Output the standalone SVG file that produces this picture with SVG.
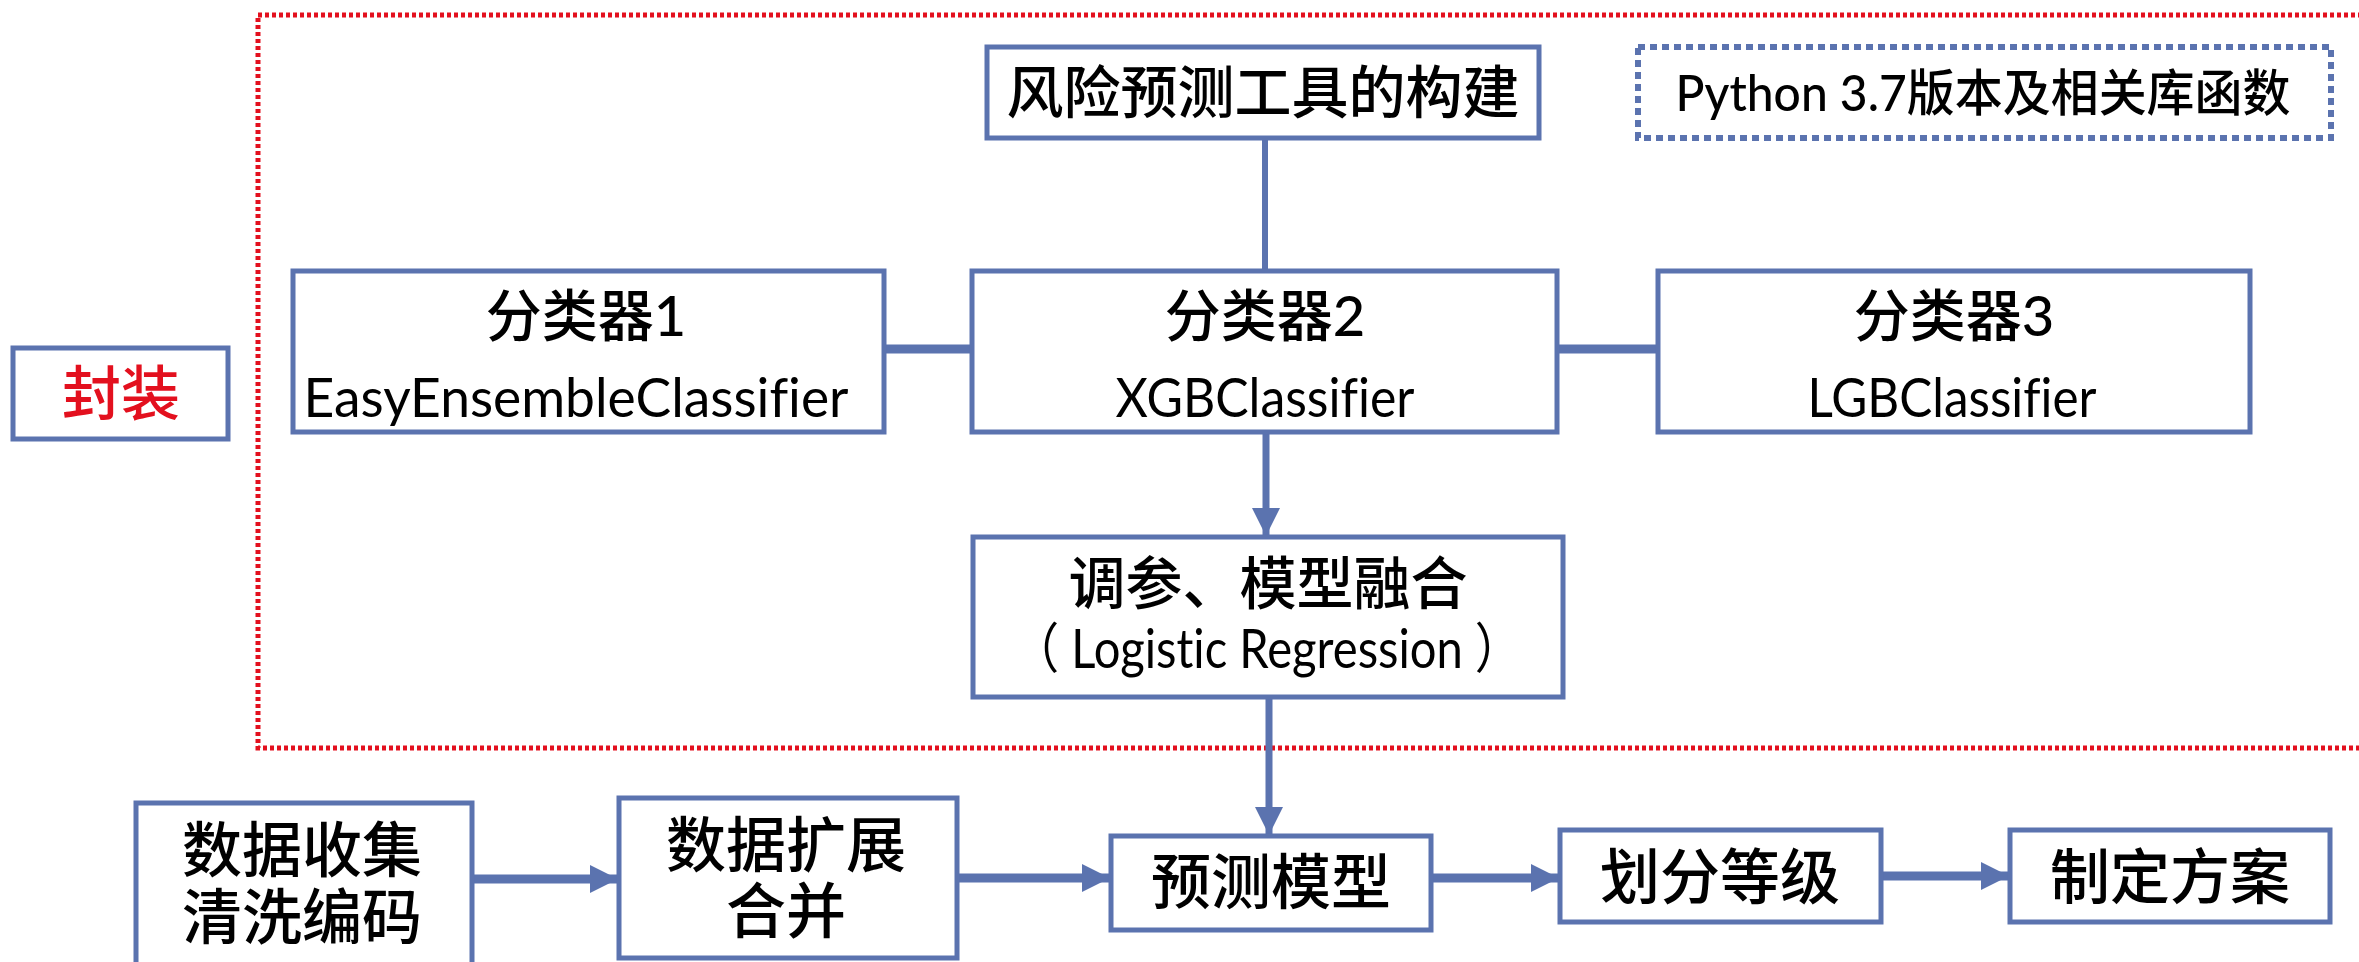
<svg xmlns="http://www.w3.org/2000/svg" width="2359" height="962" viewBox="0 0 2359 962">
<defs>
<style>
.box{fill:#FFFFFF;stroke:#5B73AF;stroke-width:5}
.cjk{font-family:"Lato","Noto Sans CJK SC",sans-serif;font-weight:500;fill:#000000;text-anchor:middle;font-variant-ligatures:none}
.lat{font-family:"Lato","Noto Sans CJK SC",sans-serif;fill:#000000;text-anchor:middle;font-variant-ligatures:none}
.conn{stroke:#5B73AF;fill:none}
</style>
<marker id="ah" markerUnits="userSpaceOnUse" markerWidth="28" markerHeight="28" refX="27" refY="14" orient="auto" viewBox="0 0 28 28">
<path d="M0,0 L28,14 L0,28 z" fill="#5B73AF"/>
</marker>
</defs>
<rect width="2359" height="962" fill="#FFFFFF"/>

<g id="encapsulation-frame">
<rect x="258" y="15" width="2200" height="733" fill="none" stroke="#E3101E" stroke-width="5" stroke-dasharray="4 3"/>
</g>

<g id="connectors">
<line class="conn" x1="1265" y1="138" x2="1265" y2="271" stroke-width="6"/>
<line class="conn" x1="884" y1="349" x2="972" y2="349" stroke-width="9"/>
<line class="conn" x1="1557" y1="349" x2="1658" y2="349" stroke-width="9"/>
<line class="conn" x1="1266" y1="432" x2="1266" y2="535" stroke-width="7" marker-end="url(#ah)"/>
<line class="conn" x1="1269" y1="697" x2="1269" y2="834" stroke-width="7" marker-end="url(#ah)"/>
<line class="conn" x1="472" y1="879" x2="617" y2="879" stroke-width="9" marker-end="url(#ah)"/>
<line class="conn" x1="957" y1="878" x2="1109" y2="878" stroke-width="9" marker-end="url(#ah)"/>
<line class="conn" x1="1431" y1="878" x2="1558" y2="878" stroke-width="9" marker-end="url(#ah)"/>
<line class="conn" x1="1881" y1="876" x2="2008" y2="876" stroke-width="9" marker-end="url(#ah)"/>
</g>

<g id="node-fengzhuang">
<rect class="box" x="13" y="348" width="215" height="91"/>
<text class="cjk" x="121" y="415" font-size="59" style="fill:#E3101E">封装</text>
</g>

<g id="node-title">
<rect class="box" x="987" y="47" width="552" height="91"/>
<text class="cjk" x="1263" y="113" font-size="57">风险预测工具的构建</text>
</g>

<g id="node-python">
<rect x="1638" y="47" width="693" height="91" fill="#FFFFFF" stroke="#5B73AF" stroke-width="6" stroke-dasharray="7 5"/>
<text class="cjk" x="1983" y="111" font-size="50" textLength="615" lengthAdjust="spacingAndGlyphs">Python 3.7版本及相关库函数</text>
</g>

<g id="node-clf1">
<rect class="box" x="293" y="271" width="591" height="161"/>
<text class="cjk" x="586" y="336" font-size="56">分类器1</text>
<text class="lat" x="576" y="417" font-size="54" textLength="545" lengthAdjust="spacingAndGlyphs">EasyEnsembleClassifier</text>
</g>

<g id="node-clf2">
<rect class="box" x="972" y="271" width="585" height="161"/>
<text class="cjk" x="1265" y="336" font-size="56">分类器2</text>
<text class="lat" x="1265" y="417" font-size="54" textLength="299" lengthAdjust="spacingAndGlyphs">XGBClassifier</text>
</g>

<g id="node-clf3">
<rect class="box" x="1658" y="271" width="592" height="161"/>
<text class="cjk" x="1954" y="336" font-size="56">分类器3</text>
<text class="lat" x="1952" y="417" font-size="54" textLength="289" lengthAdjust="spacingAndGlyphs">LGBClassifier</text>
</g>

<g id="node-fusion">
<rect class="box" x="973" y="537" width="590" height="160"/>
<text class="cjk" x="1268" y="604" font-size="57">调参、模型融合</text>
<text class="lat" x="1267" y="668" font-size="54" textLength="510" lengthAdjust="spacingAndGlyphs">（ Logistic Regression ）</text>
</g>

<g id="node-collect">
<rect class="box" x="136" y="803" width="336" height="170"/>
<text class="cjk" x="302" y="872" font-size="60">数据收集</text>
<text class="cjk" x="302" y="939" font-size="60">清洗编码</text>
</g>

<g id="node-expand">
<rect class="box" x="619" y="798" width="338" height="160"/>
<text class="cjk" x="786" y="867" font-size="60">数据扩展</text>
<text class="cjk" x="786" y="933" font-size="60">合并</text>
</g>

<g id="node-model">
<rect class="box" x="1111" y="836" width="320" height="94"/>
<text class="cjk" x="1271" y="904" font-size="60">预测模型</text>
</g>

<g id="node-grade">
<rect class="box" x="1560" y="830" width="321" height="92"/>
<text class="cjk" x="1720" y="899" font-size="60">划分等级</text>
</g>

<g id="node-plan">
<rect class="box" x="2010" y="830" width="320" height="92"/>
<text class="cjk" x="2170" y="899" font-size="60">制定方案</text>
</g>
</svg>
